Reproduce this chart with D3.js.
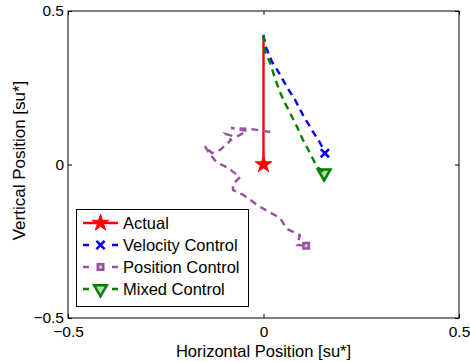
<!DOCTYPE html>
<html>
<head>
<meta charset="utf-8">
<script src="https://cdn.jsdelivr.net/npm/d3@7/dist/d3.min.js"></script>
<style>
  html, body { margin: 0; padding: 0; background: #fff; }
  svg { display: block; }
  text { font-family: "Liberation Sans", Arial, Helvetica, sans-serif; fill: #000; }
</style>
</head>
<body>
<svg id="chart" width="470" height="362"></svg>
<script>
// ---- data ----
const seriesNames = ["Actual", "Velocity Control", "Position Control", "Mixed Control"];
const xTicks = [-0.5, 0, 0.5];
const yTicks = [-0.5, 0, 0.5];

const actualX = [0, 0];
const actualY = [0.422, 0];

const velocityX = [0, 0.006, 0.022, 0.040, 0.060, 0.081, 0.101, 0.124, 0.145, 0.157];
const velocityY = [0.422, 0.383, 0.334, 0.298, 0.252, 0.210, 0.161, 0.112, 0.070, 0.037];

const positionX = [0.017, -0.035, -0.083, -0.042, -0.070, -0.096, -0.083, -0.111, -0.132, -0.150, -0.139, -0.121, -0.091, -0.060, -0.078, -0.078, -0.052, -0.009, 0.042, 0.060, 0.093, 0.086, 0.109];
const positionY = [0.106, 0.116, 0.119, 0.109, 0.090, 0.099, 0.080, 0.047, 0.037, 0.060, 0.037, 0.008, -0.011, -0.041, -0.064, -0.083, -0.099, -0.138, -0.174, -0.210, -0.230, -0.262, -0.265];

const mixedX = [0, 0.004, 0.017, 0.029, 0.042, 0.055, 0.068, 0.086, 0.101, 0.119, 0.137, 0.155];
const mixedY = [0.422, 0.367, 0.331, 0.282, 0.236, 0.200, 0.168, 0.122, 0.080, 0.037, -0.008, -0.028];

// ---- layout ----
const L = 68, R = 459, T = 11, B = 318;
const svg = d3.select("#chart");
const x = d3.scaleLinear().domain([-0.5, 0.5]).range([L, R]);
const y = d3.scaleLinear().domain([-0.5, 0.5]).range([B, T]);
const fmt = v => (v < 0 ? "\u2212" : "") + String(Math.abs(v));

const colors = {
  "Actual": "#ff0000",
  "Velocity Control": "#0000ff",
  "Position Control": "#9a4fa3",
  "Mixed Control": "#008000"
};

// axes
const gx = svg.append("g").attr("transform", `translate(0,${B})`)
  .call(d3.axisBottom(x).tickValues(xTicks).tickSizeInner(-4).tickSizeOuter(0).tickPadding(8).tickFormat(fmt));
const gy = svg.append("g").attr("transform", `translate(${L},0)`)
  .call(d3.axisLeft(y).tickValues(yTicks).tickSizeInner(-4).tickSizeOuter(0).tickPadding(4).tickFormat(fmt));
const gxt = svg.append("g").attr("transform", `translate(0,${T})`)
  .call(d3.axisTop(x).tickValues(xTicks).tickSizeInner(-4).tickSizeOuter(0).tickFormat(""));
const gyr = svg.append("g").attr("transform", `translate(${R},0)`)
  .call(d3.axisRight(y).tickValues(yTicks).tickSizeInner(-4).tickSizeOuter(0).tickFormat(""));
[gx, gy, gxt, gyr].forEach(g => {
  g.select(".domain").remove();
  g.selectAll("line").attr("stroke", "#000");
  g.selectAll("text").style("font-size", "15.5px").attr("fill", "#000");
});
svg.append("rect").attr("x", L).attr("y", T).attr("width", R - L).attr("height", B - T)
  .attr("fill", "none").attr("stroke", "#000").attr("stroke-width", 1);

// axis labels
svg.append("text").attr("x", (L + R) / 2).attr("y", 357).attr("text-anchor", "middle")
  .style("font-size", "16.5px").text("Horizontal Position [su*]");
svg.append("text").attr("transform", `translate(25,${(T + B) / 2 - 4}) rotate(-90)`).attr("text-anchor", "middle")
  .style("font-size", "17px").text("Vertical Position [su*]");

// lines
const line = d3.line().x(d => x(d[0])).y(d => y(d[1]));
const zip = (xs, ys) => xs.map((v, i) => [v, ys[i]]);
const series = [
  { name: "Actual", pts: zip(actualX, actualY), dash: null, marker: "star" },
  { name: "Velocity Control", pts: zip(velocityX, velocityY), dash: "7,5", marker: "x" },
  { name: "Position Control", pts: zip(positionX, positionY), dash: "7,5", marker: "square" },
  { name: "Mixed Control", pts: zip(mixedX, mixedY), dash: "7,5", marker: "tri" }
];

function drawMarker(g, type, cx, cy, color) {
  if (type === "star") {
    g.append("path").attr("d", d3.symbol(d3.symbolStar, 85)())
      .attr("transform", `translate(${cx},${cy})`).attr("fill", color).attr("stroke", color).attr("stroke-width", 1);
  } else if (type === "x") {
    g.append("path").attr("d", d3.symbol(d3.symbolTimes, 45)())
      .attr("transform", `translate(${cx},${cy})`).attr("fill", "none").attr("stroke", color).attr("stroke-width", 2.6);
  } else if (type === "square") {
    g.append("path").attr("d", d3.symbol(d3.symbolSquare, 30)())
      .attr("transform", `translate(${cx},${cy})`).attr("fill", color).attr("fill-opacity", 0.35).attr("stroke", color).attr("stroke-width", 2.5);
  } else if (type === "tri") {
    g.append("path").attr("d", d3.symbol(d3.symbolTriangle, 70)())
      .attr("transform", `translate(${cx},${cy}) rotate(180)`).attr("fill", color).attr("fill-opacity", 0.3).attr("stroke", color).attr("stroke-width", 2.5);
  }
}

const plot = svg.append("g");
series.forEach(s => {
  plot.append("path").attr("d", line(s.pts)).attr("fill", "none")
    .attr("stroke", colors[s.name]).attr("stroke-width", 2.4)
    .attr("stroke-dasharray", s.dash);
});
series.forEach(s => {
  const last = s.pts[s.pts.length - 1];
  drawMarker(plot, s.marker, x(last[0]), y(last[1]), colors[s.name]);
});

// legend
const lg = svg.append("g");
lg.append("rect").attr("x", 76.5).attr("y", 209.5).attr("width", 172).attr("height", 97)
  .attr("fill", "#fff").attr("stroke", "#000").attr("stroke-width", 1);
const rowY = [223, 245, 267, 289];
series.forEach((s, i) => {
  const yy = rowY[i];
  lg.append("line").attr("x1", 83).attr("x2", 118).attr("y1", yy).attr("y2", yy)
    .attr("stroke", colors[s.name]).attr("stroke-width", 2.4)
    .attr("stroke-dasharray", s.dash ? "6,23" : null);
  drawMarker(lg, s.marker, 100.5, yy, colors[s.name]);
  lg.append("text").attr("x", 123).attr("y", yy + 6).style("font-size", "16.5px").text(s.name);
});
</script>
</body>
</html>
